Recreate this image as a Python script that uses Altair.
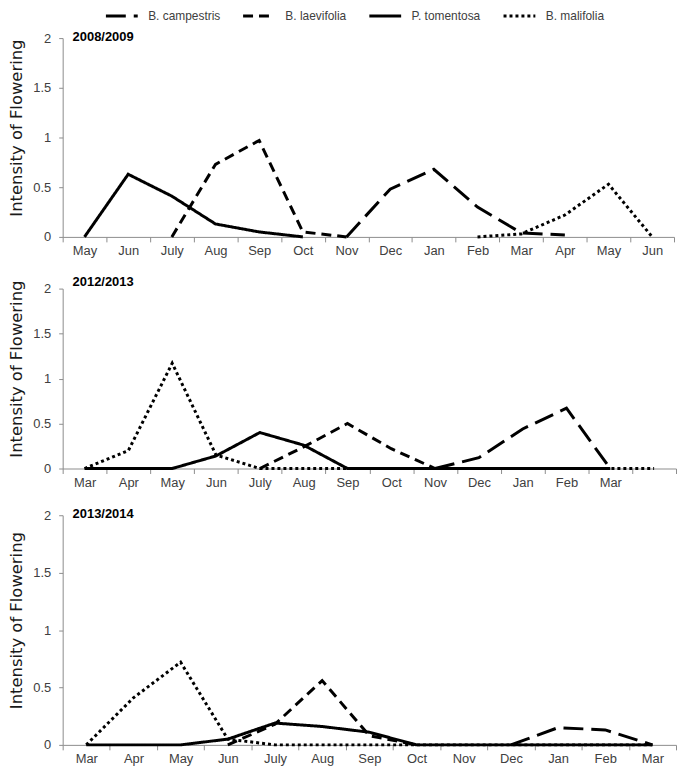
import altair as alt
import pandas as pd

series_names = ["B. campestris", "B. laevifolia", "P. tomentosa", "B. malifolia"]
dash_patterns = [[20, 8], [10, 6], [1, 0], [3, 3]]

# Panel 1: 2008/2009
months_1 = ["May", "Jun", "July", "Aug", "Sep", "Oct", "Nov", "Dec", "Jan", "Feb", "Mar", "Apr", "May", "Jun"]
campestris_1 = [None, None, None, None, None, None, 0, 0.48, 0.68, 0.30, 0.04, 0.02, None, None]
laevifolia_1 = [None, None, 0, 0.73, 0.97, 0.05, 0, None, None, None, None, None, None, None]
tomentosa_1 = [0, 0.63, 0.41, 0.13, 0.05, 0, None, None, None, None, None, None, None, None]
malifolia_1 = [None, None, None, None, None, None, None, None, None, 0, 0.03, 0.22, 0.53, 0]

# Panel 2: 2012/2013
months_2 = ["Mar", "Apr", "May", "Jun", "July", "Aug", "Sep", "Oct", "Nov", "Dec", "Jan", "Feb", "Mar", ""]
campestris_2 = [None, None, None, None, None, None, None, None, 0, 0.12, 0.44, 0.67, 0, None]
laevifolia_2 = [None, None, None, None, 0, 0.24, 0.50, 0.22, 0, None, None, None, None, None]
tomentosa_2 = [0, 0, 0, 0.14, 0.40, 0.26, 0, 0, 0, 0, 0, 0, 0, None]
malifolia_2 = [0, 0.20, 1.17, 0.15, 0, 0, 0, 0, 0, 0, 0, 0, 0, 0]

# Panel 3: 2013/2014
months_3 = ["Mar", "Apr", "May", "Jun", "July", "Aug", "Sep", "Oct", "Nov", "Dec", "Jan", "Feb", "Mar"]
campestris_3 = [None, None, None, None, None, None, None, None, None, 0, 0.15, 0.13, 0]
laevifolia_3 = [None, None, None, 0, 0.18, 0.56, 0.08, 0, None, None, None, None, None]
tomentosa_3 = [0, 0, 0, 0.05, 0.19, 0.16, 0.11, 0, 0, 0, 0, 0, 0]
malifolia_3 = [0, 0.41, 0.72, 0.05, 0, 0, 0, 0, 0, 0, 0, 0, 0]

y_ticks = [0, 0.5, 1, 1.5, 2]

AXIS_GRAY = "#8c8c8c"
LABEL_COLOR = "#404040"
TICK_FONT = "Liberation Sans"


def panel(months, values, title, width, height):
    rows = []
    for name, arr in zip(series_names, values):
        for i, v in enumerate(arr):
            if v is not None:
                rows.append({"idx": i, "series": name, "value": v})
    df = pd.DataFrame(rows)
    label_expr = "[" + ",".join("'" + m + "'" for m in months) + "][datum.value]"
    return (
        alt.Chart(df)
        .mark_line(strokeWidth=3, color="black", strokeCap="butt")
        .encode(
            x=alt.X(
                "idx:O",
                scale=alt.Scale(type="band", domain=list(range(len(months))), paddingInner=0, paddingOuter=0),
                axis=alt.Axis(
                    title=None, labelExpr=label_expr, tickBand="extent", labelAngle=0,
                    domainColor=AXIS_GRAY, tickColor=AXIS_GRAY, tickSize=5, labelPadding=3,
                    labelFont=TICK_FONT, labelFontSize=13, labelColor=LABEL_COLOR,
                ),
            ),
            y=alt.Y(
                "value:Q",
                scale=alt.Scale(domain=[0, 2], nice=False),
                axis=alt.Axis(
                    values=y_ticks, format="~g", grid=False, title="Intensity of  Flowering",
                    titleFont="DejaVu Sans", titleFontSize=16.5, titleFontWeight="normal",
                    titleColor="#1a1a1a", titlePadding=8, titleY=height / 2 - 10,
                    domainColor=AXIS_GRAY, tickColor=AXIS_GRAY, tickSize=4, labelPadding=8,
                    labelFont=TICK_FONT, labelFontSize=13, labelColor=LABEL_COLOR,
                ),
            ),
            strokeDash=alt.StrokeDash(
                "series:N",
                scale=alt.Scale(domain=series_names, range=dash_patterns),
                legend=alt.Legend(
                    title=None, orient="none", direction="horizontal", columns=4,
                    legendX=42, legendY=-40, symbolType="stroke", symbolSize=1024,
                    symbolStrokeWidth=3, symbolStrokeColor="black", labelFont=TICK_FONT,
                    labelFontSize=12, labelColor=LABEL_COLOR, labelOffset=9, columnPadding=16,
                ),
            ),
        )
        .properties(
            width=width,
            height=height,
            title=alt.TitleParams(
                title, anchor="start", frame="group", orient="top", dx=10, offset=-18,
                baseline="middle", font=TICK_FONT, fontSize=13, fontWeight="bold", color="black",
            ),
        )
    )


p1 = panel(months_1, [campestris_1, laevifolia_1, tomentosa_1, malifolia_1], "2008/2009", 615, 200)
p2 = panel(months_2, [campestris_2, laevifolia_2, tomentosa_2, malifolia_2], "2012/2013", 617, 181)
p3 = panel(months_3, [campestris_3, laevifolia_3, tomentosa_3, malifolia_3], "2013/2014", 617, 231)

inner = alt.vconcat(p2, p3, spacing=47, bounds="flush")
chart = (
    alt.vconcat(p1, inner, spacing=52, bounds="flush")
    .properties(padding={"top": -12, "left": 0, "right": 0, "bottom": 0}, background="white")
    .configure_view(stroke=None)
)

chart.save("out.html", embed_options={"renderer": "svg", "actions": False})
